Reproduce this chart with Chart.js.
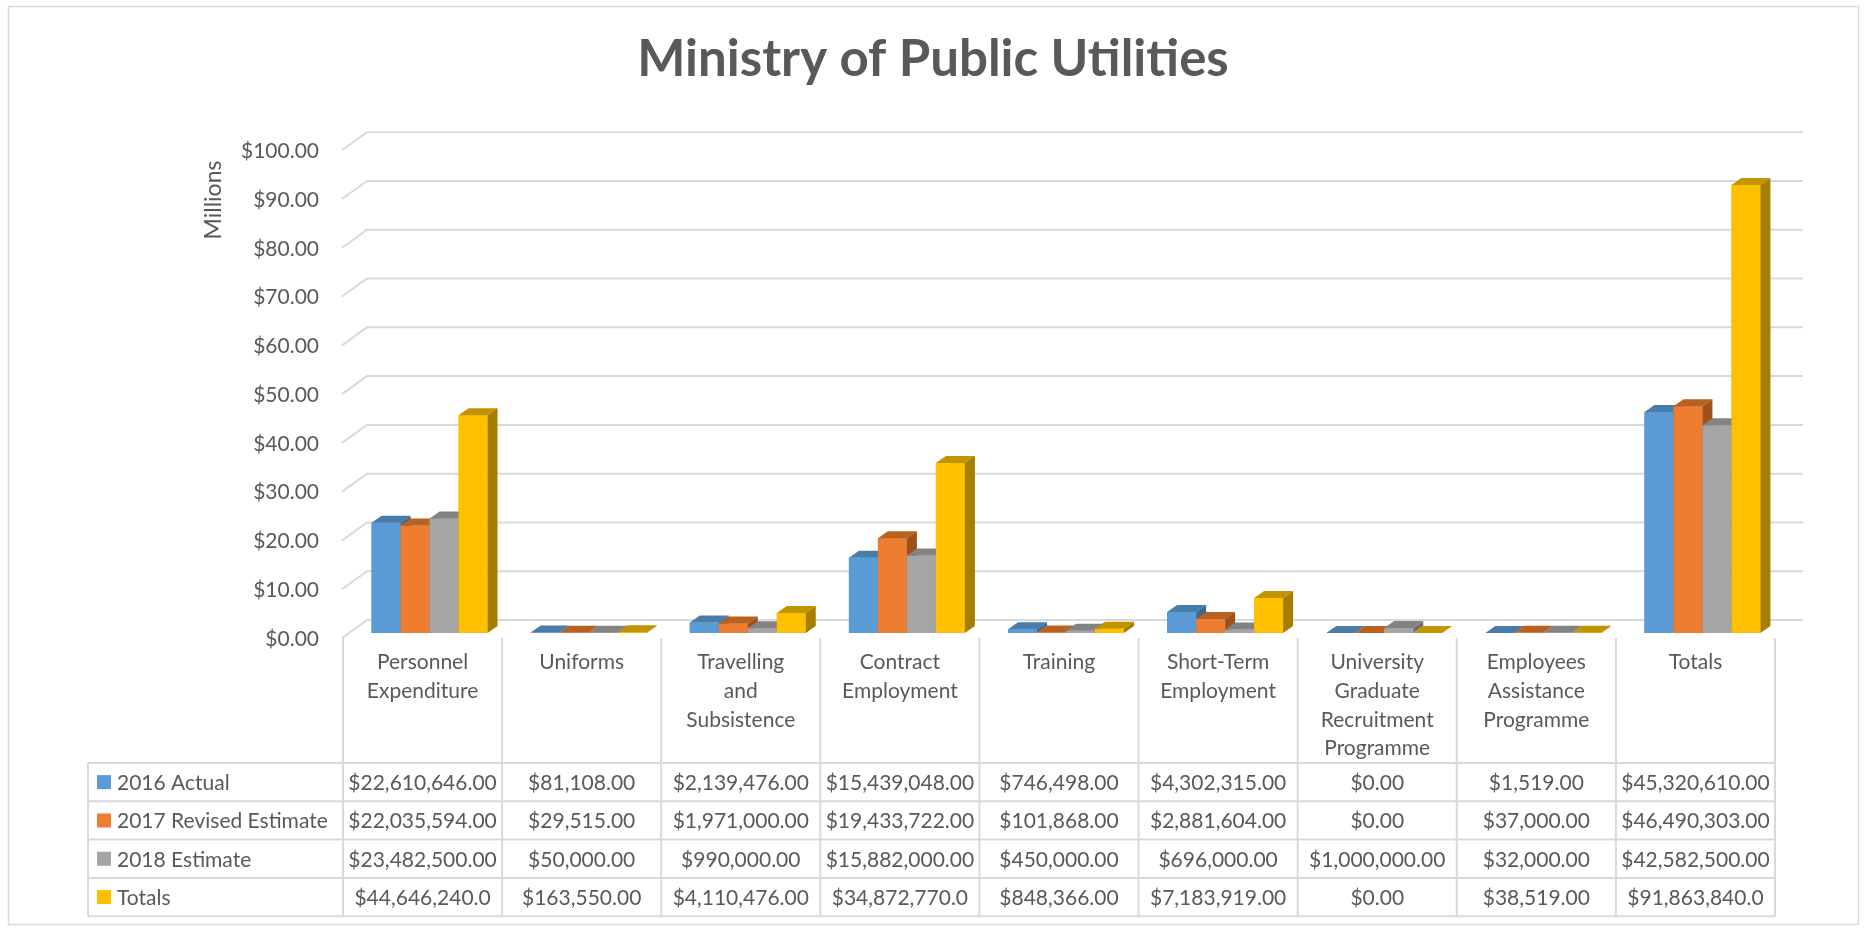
<!DOCTYPE html>
<html>
<head>
<meta charset="utf-8">
<script src="https://cdn.jsdelivr.net/npm/chart.js@4.4.1/dist/chart.umd.min.js"></script>
<style>
  html, body { margin: 0; padding: 0; background: #ffffff; }
  #wrap { width: 1866px; height: 930px; position: relative; }
</style>
</head>
<body>
<div id="wrap"><canvas id="c"></canvas></div>
<script>
// ---------- DATA ----------
const chartTitle = 'Ministry of Public Utilities';
const yAxisTitle = 'Millions';
const categories = [
  ['Personnel', 'Expenditure'],
  ['Uniforms'],
  ['Travelling', 'and', 'Subsistence'],
  ['Contract', 'Employment'],
  ['Training'],
  ['Short-Term', 'Employment'],
  ['University', 'Graduate', 'Recruitment', 'Programme'],
  ['Employees', 'Assistance', 'Programme'],
  ['Totals']
];
const seriesNames = ['2016 Actual', '2017 Revised Estimate', '2018 Estimate', 'Totals'];
const actual2016   = [22610646, 81108, 2139476, 15439048, 746498, 4302315, 0, 1519, 45320610];
const revised2017  = [22035594, 29515, 1971000, 19433722, 101868, 2881604, 0, 37000, 46490303];
const estimate2018 = [23482500, 50000, 990000, 15882000, 450000, 696000, 1000000, 32000, 42582500];
const totalsRow    = [44646240, 163550, 4110476, 34872770, 848366, 7183919, 0, 38519, 91863840];
const yTickMin = 0, yTickMax = 100, yTickStep = 10; // millions

// ---------- STYLE ----------
const frontColors = ['#5B9BD5', '#ED7D31', '#A5A5A5', '#FFC000'];
const topColors   = ['#4A7CAA', '#B9611F', '#838383', '#C29400'];
const sideColors  = ['#3E6890', '#9C5119', '#6E6E6E', '#A67E00'];
const textColor = '#595959';
const lineColor = '#D9D9D9';
const FONT = 'Lato, "Open Sans", sans-serif';
const DEPTH_X = 10, DEPTH_Y = 7;   // bar depth
const SHIFT = 7;                    // bars sit behind the front edge

const seriesValues = [actual2016, revised2017, estimate2018, totalsRow];

function money(v, decimals) {
  return '$' + v.toLocaleString('en-US', { minimumFractionDigits: decimals, maximumFractionDigits: decimals });
}
function cellText(series, v) {
  // Totals row of the source clips large values to one decimal
  if (series === 3 && v >= 1e7) return money(v, 1);
  return money(v, 2);
}

const threeD = {
  id: 'threeD',
  beforeDraw(chart) {
    const ctx = chart.ctx;
    ctx.save();
    ctx.fillStyle = '#ffffff';
    ctx.fillRect(0, 0, chart.width, chart.height);
    ctx.strokeStyle = lineColor;
    ctx.lineWidth = 1.5;
    ctx.strokeRect(8.5, 6.5, 1850, 918);
    ctx.restore();
  },
  beforeDatasetsDraw(chart) {
    const { ctx, scales: { x, y } } = chart;
    const frontLeft = x.left - SHIFT;
    ctx.save();
    ctx.strokeStyle = lineColor;
    ctx.lineWidth = 2;
    // 3D gridlines: front diagonal + back wall line
    y.ticks.forEach(t => {
      const py = y.getPixelForValue(t.value);
      ctx.beginPath();
      ctx.moveTo(frontLeft - 1, py + 5);
      ctx.lineTo(frontLeft + 24, py - 13);
      ctx.lineTo(x.right + 21, py - 13);
      ctx.stroke();
    });
    // category separators and data table
    const n = categories.length;
    const bounds = [];
    for (let k = 0; k <= n; k++) bounds.push(x.getPixelForValue(k - 0.5) - SHIFT);
    const sepTop = y.getPixelForValue(0) + 5;
    const tableTop = 763, rowH = 38.3, tableLeft = 88;
    const tableBottom = tableTop + rowH * 4;
    ctx.beginPath();
    bounds.forEach(bx => { ctx.moveTo(bx, sepTop); ctx.lineTo(bx, tableBottom); });
    ctx.moveTo(tableLeft, tableTop); ctx.lineTo(tableLeft, tableBottom);
    for (let r = 0; r <= 4; r++) {
      const ry = tableTop + r * rowH;
      ctx.moveTo(tableLeft, ry); ctx.lineTo(bounds[n], ry);
    }
    ctx.stroke();
    // table text
    ctx.font = '21px ' + FONT;
    ctx.fillStyle = textColor;
    ctx.textBaseline = 'middle';
    seriesNames.forEach((name, s) => {
      const cy = tableTop + rowH * (s + 0.5);
      ctx.fillStyle = frontColors[s];
      ctx.fillRect(97, cy - 7, 14, 14);
      ctx.fillStyle = textColor;
      ctx.textAlign = 'left';
      ctx.fillText(name, 117, cy + 1);
      ctx.textAlign = 'center';
      seriesValues[s].forEach((v, i) => {
        const cx = x.getPixelForValue(i) - SHIFT;
        ctx.fillText(cellText(s, v), cx, cy + 1);
      });
    });
    // y axis title
    ctx.save();
    ctx.font = '23px ' + FONT;
    ctx.fillStyle = textColor;
    ctx.translate(214, 200);
    ctx.rotate(-Math.PI / 2);
    ctx.textAlign = 'center';
    ctx.textBaseline = 'middle';
    ctx.fillText(yAxisTitle, 0, 0);
    ctx.restore();
    ctx.restore();
  },
  afterDatasetsDraw(chart) {
    const ctx = chart.ctx;
    const metas = chart.data.datasets.map((d, i) => chart.getDatasetMeta(i));
    ctx.save();
    for (let i = 0; i < categories.length; i++) {
      metas.forEach((meta, s) => {
        const bar = meta.data[i];
        if (!bar) return;
        const { x: bx, y: by, base, width } = bar.getProps(['x', 'y', 'base', 'width'], true);
        const l = bx - width / 2, r = bx + width / 2;
        ctx.fillStyle = frontColors[s];
        ctx.fillRect(l, by, width, base - by);
        ctx.fillStyle = topColors[s];
        ctx.beginPath();
        ctx.moveTo(l, by); ctx.lineTo(l + DEPTH_X, by - DEPTH_Y);
        ctx.lineTo(r + DEPTH_X, by - DEPTH_Y); ctx.lineTo(r, by);
        ctx.closePath(); ctx.fill();
        ctx.fillStyle = sideColors[s];
        ctx.beginPath();
        ctx.moveTo(r, by); ctx.lineTo(r + DEPTH_X, by - DEPTH_Y);
        ctx.lineTo(r + DEPTH_X, base - DEPTH_Y); ctx.lineTo(r, base);
        ctx.closePath(); ctx.fill();
      });
    }
    ctx.restore();
  }
};

Chart.defaults.font.family = FONT;
Chart.defaults.color = textColor;

new Chart(document.getElementById('c'), {
  type: 'bar',
  data: {
    labels: categories,
    datasets: seriesNames.map((name, s) => ({
      label: name,
      data: seriesValues[s].map(v => v / 1e6),
      backgroundColor: frontColors[s],
      borderWidth: 0,
      categoryPercentage: 0.729,
      barPercentage: 1.0
    }))
  },
  options: {
    responsive: true,
    maintainAspectRatio: false,
    animation: false,
    layout: { padding: { left: 0, right: 0, top: 0, bottom: 0 } },
    plugins: {
      legend: { display: false },
      tooltip: { enabled: false },
      title: {
        display: true,
        text: chartTitle,
        color: textColor,
        font: { size: 51, weight: 'bold', family: FONT, lineHeight: 1.2 },
        padding: { top: 29, bottom: 55 }
      }
    },
    scales: {
      x: {
        type: 'category',
        offset: true,
        grid: { display: false, drawTicks: false },
        border: { display: false },
        ticks: {
          autoSkip: false, maxRotation: 0, minRotation: 0,
          padding: 15, labelOffset: -SHIFT,
          color: textColor,
          font: { size: 21, family: FONT, lineHeight: 1.37 }
        },
        afterFit: s => { s.height = 297; }
      },
      y: {
        min: yTickMin, max: yTickMax,
        grid: { display: false, drawTicks: false },
        border: { display: false },
        ticks: {
          stepSize: yTickStep, padding: 31, labelOffset: 6,
          color: textColor,
          font: { size: 21, family: FONT },
          callback: v => '$' + Number(v).toFixed(2)
        },
        afterFit: s => { s.width = 350; }
      },
      yRight: {
        position: 'right',
        display: true,
        grid: { display: false, drawTicks: false },
        border: { display: false },
        ticks: { display: false },
        afterFit: s => { s.width = 84; }
      }
    }
  },
  plugins: [threeD]
});
</script>
</body>
</html>
